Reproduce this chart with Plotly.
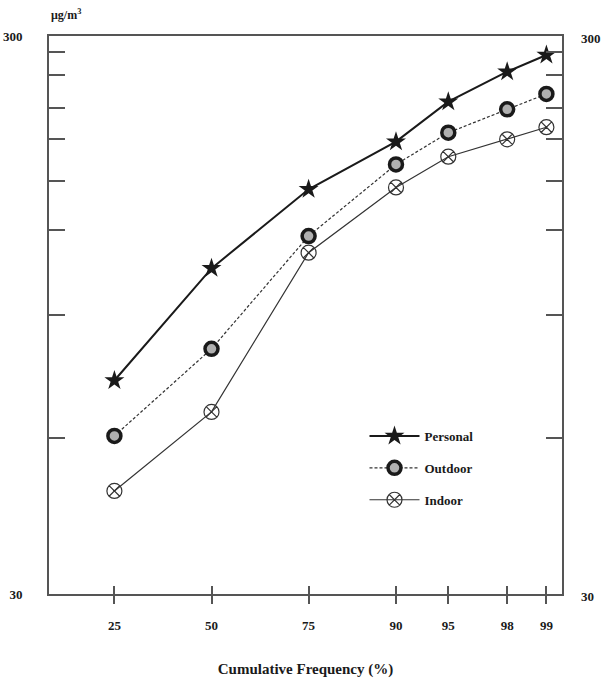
import math
from statistics import NormalDist
import plotly.graph_objects as go

# ---- data ----
freq_pct = [25, 50, 75, 90, 95, 98, 99]
freq_labels = ["25", "50", "75", "90", "95", "98", "99"]
personal = [72.4, 115.0, 159.4, 194.0, 228.8, 258.9, 277.4]
outdoor = [57.6, 82.5, 131.4, 176.6, 201.3, 221.7, 236.2]
indoor = [45.9, 63.6, 122.7, 160.6, 182.3, 195.9, 205.9]
y_minor_ticks = [57, 95, 135, 165, 196, 223, 255, 281]
y_min, y_max = 30, 300

# probability (probit) scale for the cumulative frequency axis
nd = NormalDist()
xz = [nd.inv_cdf(p / 100.0) for p in freq_pct]

FONT = "Liberation Serif"
INK = "#1a1a1a"
FRAME = "#555555"

fig = go.Figure()
fig.add_trace(go.Scatter(
    x=xz, y=personal, name="Personal", mode="lines+markers",
    line=dict(color=INK, width=2),
    marker=dict(symbol="star", size=15, color=INK, line=dict(width=0)),
    legendgroup="p",
))
fig.add_trace(go.Scatter(
    x=xz, y=outdoor, name="Outdoor", mode="lines+markers",
    line=dict(color="#333333", width=1.2, dash="3px,2px"),
    marker=dict(symbol="circle", size=13, color="#b0b0b0",
                line=dict(color=INK, width=3.5)),
    legendgroup="o",
))
fig.add_trace(go.Scatter(
    x=xz, y=indoor, name="Indoor", mode="lines+markers",
    line=dict(color="#333333", width=1.2),
    marker=dict(symbol="circle-x-open", size=15, color="#333333",
                line=dict(width=1.2)),
    legendgroup="i",
))

fig.update_layout(
    width=605, height=680,
    margin=dict(l=49, r=43, t=36, b=86, autoexpand=False),
    paper_bgcolor="white", plot_bgcolor="white",
    font=dict(family=FONT, size=13, color=INK, weight="bold"),
    showlegend=True,
    legend=dict(x=0.615, y=0.31, xanchor="left", yanchor="top",
                bgcolor="rgba(0,0,0,0)", tracegroupgap=12, itemwidth=50,
                font=dict(family=FONT, size=13, weight="bold")),
)

fig.update_xaxes(
    range=[-1.1288, 2.4347], automargin=False,
    tickmode="array", tickvals=xz, ticktext=freq_labels,
    ticks="inside", ticklen=8, tickwidth=1.5, tickcolor=FRAME,
    minor=dict(ticks="outside", ticklen=8, tickwidth=1.5, tickcolor=FRAME,
               tickmode="array", tickvals=[z + 1e-4 for z in xz]),
    showline=True, linewidth=2, linecolor=FRAME, mirror=True,
    showgrid=False, zeroline=False,
    ticklabelstandoff=18,
    title=dict(text="Cumulative Frequency (%)",
               font=dict(family=FONT, size=15, weight="bold"), standoff=32),
)

fig.update_yaxes(
    type="log", range=[math.log10(y_min), math.log10(y_max)],
    automargin=False,
    tickmode="array",
    tickvals=[y_min] + y_minor_ticks + [y_max],
    ticktext=[str(y_min)] + [""] * len(y_minor_ticks) + [str(y_max)],
    ticks="inside", ticklen=16, tickwidth=1.5, tickcolor=FRAME,
    showline=True, linewidth=2, linecolor=FRAME, mirror="ticks",
    showgrid=False, zeroline=False,
    ticklabelstandoff=22,
    tickfont=dict(family=FONT, size=13, weight="bold"),
)

# right-hand labels and unit
for v in (y_min, y_max):
    fig.add_annotation(
        x=1, xref="paper", y=math.log10(v), yref="y",
        text=str(v), showarrow=False, xanchor="left", xshift=17,
        yshift=-2, font=dict(family=FONT, size=13, weight="bold"),
    )
fig.add_annotation(
    x=0, xref="paper", y=1, yref="paper", xanchor="left", yanchor="bottom",
    text="μg/m<sup>3</sup>", showarrow=False, yshift=12,
    font=dict(family=FONT, size=12, weight="bold"),
)

fig.write_html("out.html")
